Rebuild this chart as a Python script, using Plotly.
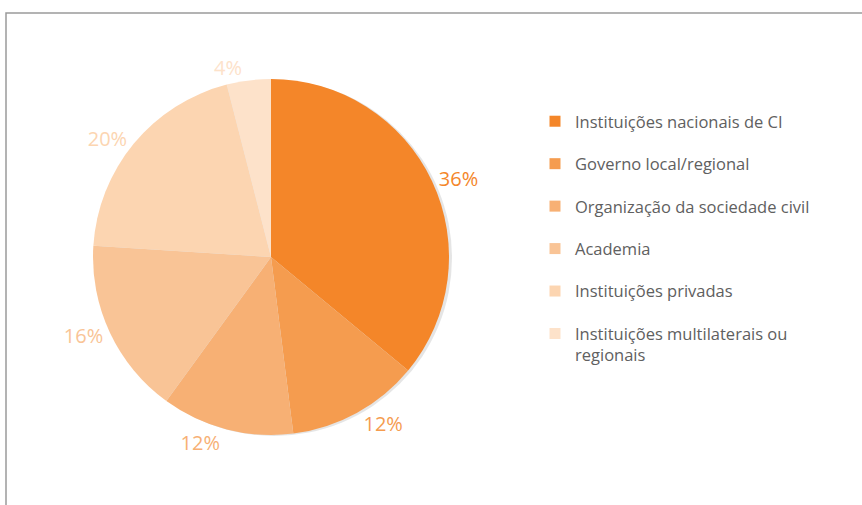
import plotly.graph_objects as go

categories = [
    "Instituições nacionais de CI",
    "Governo local/regional",
    "Organização da sociedade civil",
    "Academia",
    "Instituições privadas",
    "Instituições multilaterais ou<br>regionais",
]
values = [36, 12, 12, 16, 20, 4]
colors = ["#F48629", "#F59C4F", "#F7B074", "#F9C496", "#FCD5B1", "#FDE2CA"]
label_colors = ["#F48629", "#F59C4F", "#F7B074", "#F9C496", "#FCD5B1", "#FDE2CA"]

W, H = 862, 505
cx, cy, r = 271, 257, 178

def dom(dx=0, dy=0):
    return dict(x=[(cx + dx - r) / W, (cx + dx + r) / W],
                y=[(H - cy - dy - r) / H, (H - cy - dy + r) / H])

fig = go.Figure()
# soft shadow behind the pie
fig.add_trace(go.Pie(
    values=[1], labels=["shadow"], sort=False, showlegend=False,
    marker=dict(colors=["rgba(0,0,0,0.10)"], line=dict(width=0)),
    textinfo="none", hoverinfo="skip", domain=dom(3, 1),
))
fig.add_trace(go.Pie(
    labels=categories,
    values=values,
    sort=False,
    direction="clockwise",
    rotation=0,
    marker=dict(colors=colors, line=dict(width=0)),
    texttemplate="%{value}%",
    textposition="outside",
    outsidetextfont=dict(color=label_colors, size=20, family="Open Sans"),
    showlegend=False,
    hoverinfo="label+value",
    domain=dom(),
))

for i, (c, col) in enumerate(zip(categories, colors)):
    fig.add_trace(go.Scatter(
        x=[None], y=[None], mode="markers",
        marker=dict(symbol="square", size=11, color=col),
        name=c, legendgroup=f"g{i}", showlegend=True,
    ))

fig.add_shape(type="rect", xref="paper", yref="paper",
              x0=6 / W, x1=1.05, y0=-0.1, y1=(H - 13) / H,
              line=dict(color="#9a9a9a", width=1.5), fillcolor="rgba(0,0,0,0)", layer="below")

fig.update_layout(
    width=W, height=H,
    margin=dict(l=0, r=0, t=0, b=0),
    paper_bgcolor="white", plot_bgcolor="white",
    xaxis=dict(visible=False), yaxis=dict(visible=False),
    legend=dict(x=535 / W, y=(H - 104) / H, xanchor="left", yanchor="top",
                font=dict(size=16.5, color="#606060", family="Open Sans"),
                valign="top",
                tracegroupgap=18, traceorder="grouped", bgcolor="rgba(0,0,0,0)"),
)

fig.write_html("out.html", config={"displayModeBar": False},
               post_script="document.body.style.margin='0px';")
